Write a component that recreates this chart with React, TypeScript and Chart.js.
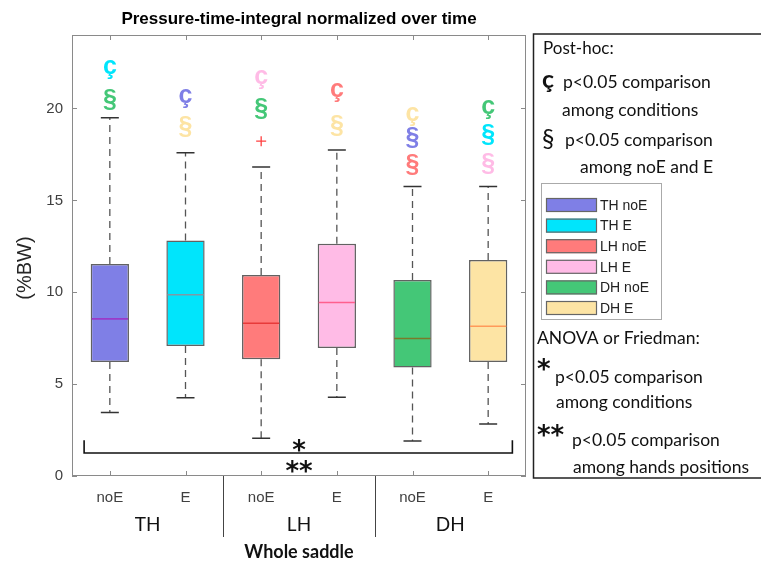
import React, { useEffect, useRef } from "react";
import { Chart, registerables } from "chart.js";
Chart.register(...registerables);

const categories = ["noE", "E", "noE", "E", "noE", "E"];
const groups = ["TH", "LH", "DH"];
const seriesNames = ["TH noE", "TH E", "LH noE", "LH E", "DH noE", "DH E"];
const q1 = [6.21, 7.08, 6.36, 6.96, 5.91, 6.21];
const q3 = [11.54, 12.81, 10.94, 12.64, 10.67, 11.76];
const medians = [8.55, 9.86, 8.31, 9.44, 7.48, 8.15];
const whiskerLow = [3.46, 4.26, 2.05, 4.29, 1.9, 2.83];
const whiskerHigh = [19.5, 17.59, 16.81, 17.74, 15.76, 15.76];
const outliers: number[][] = [[], [], [18.22], [], [], []];
const fillColors = ["#7f7fe6", "#00e5fc", "#ff7b7b", "#ffbbe6", "#44c777", "#fde4a4"];
const medianColors = ["#9a3ac8", "#7f9aa6", "#e83a3a", "#ff5f8f", "#7a7a2a", "#ff9a5a"];
const yTicks = [0, 5, 10, 15, 20];
const yMax = 24;

// post-hoc significance marks above each box
const markChars = [["ç", "§"], ["ç", "§"], ["ç", "§"], ["ç", "§"], ["ç", "§", "§"], ["ç", "§", "§"]];
const markValues = [[22.27, 20.43], [20.65, 18.98], [21.7, 19.98], [20.98, 19.02], [19.7, 18.4, 16.9], [20.07, 18.57, 17.0]];
const markColorIdx = [[1, 4], [0, 5], [3, 4], [2, 5], [5, 0, 2], [4, 1, 3]];

// ANOVA / Friedman bracket
const bracketFrom = -0.34;
const bracketTo = 5.32;
const bracketValue = 1.25;
const bracketEndValue = 1.95;

const SANS = "'Liberation Sans', Arial, sans-serif";
const HUM = "Lato, 'Open Sans', sans-serif";

export default function App() {
  const ref = useRef<HTMLCanvasElement>(null);
  useEffect(() => {
    const canvas = ref.current!;
    const overlay = {
      id: "boxplotOverlay",
      afterDatasetsDraw(chart: any) {
        const ctx = chart.ctx as CanvasRenderingContext2D;
        const x = chart.scales.x;
        const y = chart.scales.y;
        const half = 9;
        ctx.save();
        for (let i = 0; i < categories.length; i++) {
          const cx = x.getPixelForValue(i);
          ctx.strokeStyle = "#555";
          ctx.lineWidth = 1.3;
          ctx.setLineDash([7, 5]);
          ctx.beginPath();
          ctx.moveTo(cx, y.getPixelForValue(q3[i]));
          ctx.lineTo(cx, y.getPixelForValue(whiskerHigh[i]));
          ctx.moveTo(cx, y.getPixelForValue(q1[i]));
          ctx.lineTo(cx, y.getPixelForValue(whiskerLow[i]));
          ctx.stroke();
          ctx.setLineDash([]);
          ctx.strokeStyle = "#333";
          ctx.lineWidth = 1.5;
          ctx.beginPath();
          ctx.moveTo(cx - half, y.getPixelForValue(whiskerHigh[i]));
          ctx.lineTo(cx + half, y.getPixelForValue(whiskerHigh[i]));
          ctx.moveTo(cx - half, y.getPixelForValue(whiskerLow[i]));
          ctx.lineTo(cx + half, y.getPixelForValue(whiskerLow[i]));
          ctx.stroke();
          const bw = chart.getDatasetMeta(0).data[i].width;
          ctx.strokeStyle = medianColors[i];
          ctx.lineWidth = 1.6;
          ctx.beginPath();
          ctx.moveTo(cx - bw / 2 + 1, y.getPixelForValue(medians[i]));
          ctx.lineTo(cx + bw / 2 - 1, y.getPixelForValue(medians[i]));
          ctx.stroke();
          ctx.strokeStyle = "#ff4040";
          ctx.lineWidth = 1.3;
          for (const o of outliers[i]) {
            const oy = y.getPixelForValue(o);
            ctx.beginPath();
            ctx.moveTo(cx - 5, oy);
            ctx.lineTo(cx + 5, oy);
            ctx.moveTo(cx, oy - 5);
            ctx.lineTo(cx, oy + 5);
            ctx.stroke();
          }
          ctx.font = `bold 25px ${SANS}`;
          ctx.textAlign = "center";
          ctx.textBaseline = "middle";
          for (let k = 0; k < markChars[i].length; k++) {
            ctx.fillStyle = fillColors[markColorIdx[i][k]];
            ctx.fillText(markChars[i][k], cx, y.getPixelForValue(markValues[i][k]));
          }
        }
        const step = x.getPixelForValue(1) - x.getPixelForValue(0);
        const bx0 = x.getPixelForValue(0) + bracketFrom * step;
        const bx1 = x.getPixelForValue(0) + bracketTo * step;
        const by = y.getPixelForValue(bracketValue);
        const bye = y.getPixelForValue(bracketEndValue);
        ctx.strokeStyle = "#111";
        ctx.lineWidth = 1.6;
        ctx.beginPath();
        ctx.moveTo(bx0, bye);
        ctx.lineTo(bx0, by);
        ctx.lineTo(bx1, by);
        ctx.lineTo(bx1, bye);
        ctx.stroke();
        const mid = (x.getPixelForValue(2) + x.getPixelForValue(3)) / 2;
        ctx.fillStyle = "#111";
        ctx.font = `bold 26px 'DejaVu Sans', sans-serif`;
        ctx.textAlign = "center";
        ctx.textBaseline = "alphabetic";
        ctx.fillText("*", mid, by + 6);
        ctx.fillText("**", mid, by + 27);
        ctx.restore();
      },
      afterDraw(chart: any) {
        const ctx = chart.ctx as CanvasRenderingContext2D;
        const a = chart.chartArea;
        const x = chart.scales.x;
        const y = chart.scales.y;
        ctx.save();
        ctx.strokeStyle = "#8a8a8a";
        ctx.lineWidth = 1;
        ctx.strokeRect(a.left + 0.5, a.top + 0.5, a.right - a.left - 1, a.bottom - a.top - 1);
        ctx.beginPath();
        for (const t of yTicks) {
          const py = Math.round(y.getPixelForValue(t)) + 0.5;
          ctx.moveTo(a.left, py);
          ctx.lineTo(a.left + 5, py);
          ctx.moveTo(a.right, py);
          ctx.lineTo(a.right - 5, py);
        }
        for (let i = 0; i < categories.length; i++) {
          const px = Math.round(x.getPixelForValue(i)) + 0.5;
          ctx.moveTo(px, a.bottom);
          ctx.lineTo(px, a.bottom - 5);
          ctx.moveTo(px, a.top);
          ctx.lineTo(px, a.top + 5);
        }
        ctx.stroke();
        const step = x.getPixelForValue(1) - x.getPixelForValue(0);
        ctx.strokeStyle = "#444";
        ctx.beginPath();
        for (const b of [1.5, 3.5]) {
          const px = Math.round(x.getPixelForValue(0) + b * step) + 0.5;
          ctx.moveTo(px, a.bottom);
          ctx.lineTo(px, a.bottom + 61);
        }
        ctx.stroke();
        ctx.fillStyle = "#111";
        ctx.font = `19px ${HUM}`;
        ctx.textAlign = "center";
        ctx.textBaseline = "middle";
        groups.forEach((g, gi) => {
          const gx = (x.getPixelForValue(gi * 2) + x.getPixelForValue(gi * 2 + 1)) / 2;
          ctx.fillText(g, gx, 525);
        });
        ctx.font = `bold 18px ${HUM}`;
        ctx.fillText("Whole saddle", (a.left + a.right) / 2, 552);
        ctx.font = `bold 17px ${SANS}`;
        ctx.fillStyle = "#000";
        ctx.fillText("Pressure-time-integral normalized over time", (a.left + a.right) / 2, 19);
        ctx.save();
        ctx.translate(25, 268);
        ctx.rotate(-Math.PI / 2);
        ctx.font = `20px ${SANS}`;
        ctx.fillStyle = "#262626";
        ctx.fillText("(%BW)", 0, 0);
        ctx.restore();

        // right panel
        ctx.strokeStyle = "#222";
        ctx.lineWidth = 1.5;
        ctx.beginPath();
        ctx.moveTo(762, 34);
        ctx.lineTo(533.5, 34);
        ctx.lineTo(533.5, 478);
        ctx.lineTo(762, 478);
        ctx.stroke();

        ctx.fillStyle = "#111";
        ctx.textAlign = "left";
        ctx.textBaseline = "middle";
        ctx.font = `17px ${HUM}`;
        ctx.fillText("Post-hoc:", 543, 49);
        ctx.font = `bold 25px ${HUM}`;
        ctx.fillText("ç", 542, 80);
        ctx.font = `17.5px ${HUM}`;
        ctx.fillText("p<0.05 comparison", 563, 82);
        ctx.fillText("among conditions", 562, 110);
        ctx.font = `25px ${HUM}`;
        ctx.fillText("§", 542, 139);
        ctx.font = `17.5px ${HUM}`;
        ctx.fillText("p<0.05 comparison", 565, 140);
        ctx.fillText("among noE and E", 580, 167);

        ctx.strokeStyle = "#aaa";
        ctx.lineWidth = 1;
        ctx.strokeRect(541.5, 183.5, 120, 136);
        ctx.font = `14px ${SANS}`;
        seriesNames.forEach((n, i) => {
          const cy = 205 + i * 20.6;
          ctx.fillStyle = fillColors[i];
          ctx.fillRect(546, cy - 7, 51, 14);
          ctx.strokeStyle = "#666";
          ctx.lineWidth = 1.2;
          ctx.strokeRect(546.5, cy - 6.5, 50, 13);
          ctx.fillStyle = "#222";
          ctx.fillText(n, 600, cy + 1);
        });

        ctx.fillStyle = "#111";
        ctx.font = `17.5px ${HUM}`;
        ctx.fillText("ANOVA or Friedman:", 537, 338);
        ctx.font = `bold 26px 'DejaVu Sans', sans-serif`;
        ctx.textBaseline = "alphabetic";
        ctx.fillText("*", 537, 378);
        ctx.fillText("**", 537, 444);
        ctx.textBaseline = "middle";
        ctx.font = `17.5px ${HUM}`;
        ctx.fillText("p<0.05 comparison", 555, 377);
        ctx.fillText("among conditions", 556, 402);
        ctx.fillText("p<0.05 comparison", 572, 440);
        ctx.fillText("among hands positions", 573, 467);
        ctx.restore();
      },
    };

    const chart = new Chart(canvas, {
      type: "bar",
      data: {
        labels: categories,
        datasets: [
          {
            label: "IQR",
            data: q1.map((v, i) => [v, q3[i]]),
            backgroundColor: fillColors,
            borderColor: "rgba(70,70,70,0.85)",
            borderWidth: 1.5,
            borderSkipped: false,
            categoryPercentage: 1,
            barPercentage: 0.506,
          },
        ],
      },
      options: {
        responsive: false,
        animation: false,
        devicePixelRatio: 1,
        layout: { padding: { left: 0, top: 35, right: 235, bottom: 0 } },
        plugins: { legend: { display: false }, title: { display: false }, tooltip: { enabled: false } },
        scales: {
          x: {
            grid: { display: false, drawTicks: false },
            border: { display: false },
            ticks: { font: { family: SANS, size: 15 }, color: "#404040", padding: 13, maxRotation: 0 },
            afterFit: (s: any) => { s.height = 85; },
          },
          y: {
            min: 0,
            max: yMax,
            grid: { display: false, drawTicks: false },
            border: { display: false },
            ticks: {
              stepSize: 5,
              includeBounds: false,
              font: { family: SANS, size: 15 },
              color: "#404040",
              padding: 9,
              callback: (v: any) => (yTicks.includes(Number(v)) ? String(v) : ""),
            },
            afterFit: (s: any) => { s.width = 72; },
          },
        },
      },
      plugins: [overlay],
    } as any);
    return () => chart.destroy();
  }, []);
  return (
    <div style={{ position: "fixed", left: 0, top: 0, width: 761, height: 561, background: "#fff" }}>
      <canvas ref={ref} width={761} height={561} style={{ display: "block" }} />
    </div>
  );
}
